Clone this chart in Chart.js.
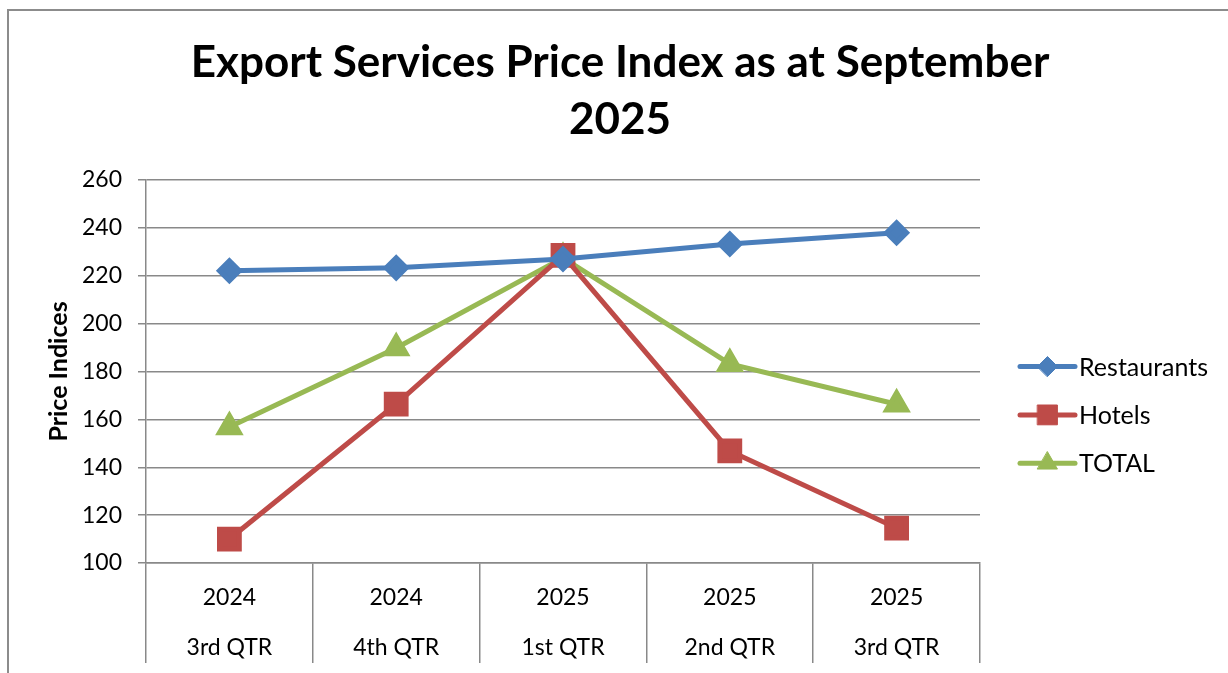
<!DOCTYPE html>
<html>
<head>
<meta charset="utf-8">
<title>Export Services Price Index</title>
<script src="https://cdn.jsdelivr.net/npm/chart.js@4.4.1/dist/chart.umd.min.js"></script>
<style>
    html, body { margin: 0; padding: 0; background: #ffffff; }
    #wrap { position: relative; width: 1228px; height: 673px; overflow: hidden; }
    #frame { position: absolute; left: 7px; top: 9px; width: 1300px; height: 800px;
             border-left: 2px solid #8c8c8c; border-top: 2px solid #8c8c8c; }
    #chart { position: absolute; left: 0; top: 0; }
</style>
</head>
<body>
<div id="wrap">
    <div id="frame"></div>
    <canvas id="chart" width="1228" height="673"></canvas>
</div>
<script>
// data
const years = ['2024', '2024', '2025', '2025', '2025'];
const quarters = ['3rd QTR', '4th QTR', '1st QTR', '2nd QTR', '3rd QTR'];
const restaurants = [222.1, 223.3, 227.0, 233.3, 238.0];
const hotels = [110.0, 166.4, 228.5, 146.8, 114.6];
const total = [156.8, 189.8, 227.5, 183.2, 166.3];
const yMin = 100, yMax = 260, yStep = 20;

const labels = years.map((y, i) => [y, quarters[i]]);

const FONT = 'Lato, "Open Sans", sans-serif';
const GRID = '#898989';

// legend on the right: a short line with the marker, then the name
const sideLegend = {
    id: 'sideLegend',
    afterDraw(chart) {
        const ctx = chart.ctx;
        const x0 = chart.chartArea.right + 40;
        chart.data.datasets.forEach((ds, i) => {
            const y = 366.5 + i * 48.4;
            ctx.save();
            ctx.strokeStyle = ds.borderColor;
            ctx.lineWidth = 5;
            ctx.lineCap = 'round';
            ctx.beginPath();
            ctx.moveTo(x0, y);
            ctx.lineTo(x0 + 55, y);
            ctx.stroke();
            ctx.fillStyle = ds.borderColor;
            ctx.lineWidth = 1;
            Chart.helpers.drawPoint(ctx, {
                pointStyle: ds.pointStyle,
                radius: ds.pointRadius,
                rotation: 0,
                borderWidth: 1
            }, x0 + 27.5, y);
            ctx.fillStyle = '#000000';
            ctx.font = '25px ' + FONT;
            ctx.textBaseline = 'middle';
            ctx.textAlign = 'left';
            ctx.fillText(ds.label, x0 + 59, y + 1);
            ctx.restore();
        });
    }
};

const chart = new Chart(document.getElementById('chart'), {
    type: 'line',
    data: {
        labels: labels,
        datasets: [{
            label: 'Restaurants',
            data: restaurants,
            borderColor: '#4a7ebb',
            backgroundColor: '#4a7ebb',
            borderWidth: 5,
            pointStyle: 'rectRot',
            pointRadius: 10,
            pointHoverRadius: 10,
            tension: 0
        }, {
            label: 'Hotels',
            data: hotels,
            borderColor: '#be4b48',
            backgroundColor: '#be4b48',
            borderWidth: 5,
            pointStyle: 'rect',
            pointRadius: 14,
            pointHoverRadius: 14,
            tension: 0
        }, {
            label: 'TOTAL',
            data: total,
            borderColor: '#98b954',
            backgroundColor: '#98b954',
            borderWidth: 5,
            pointStyle: 'triangle',
            pointRadius: 11.5,
            pointHoverRadius: 11.5,
            tension: 0
        }]
    },
    options: {
        responsive: false,
        animation: false,
        layout: { padding: { left: 12, right: 0, top: 0, bottom: 0 } },
        plugins: {
            legend: { display: false },
            tooltip: { enabled: false },
            title: {
                display: true,
                text: ['Export Services Price Index as at September', '2025'],
                color: '#000000',
                font: { family: FONT, size: 44, weight: 'bold', lineHeight: 57 / 44 },
                padding: { top: 34, bottom: 32 }
            }
        },
        scales: {
            x: {
                offset: true,
                grid: {
                    display: true,
                    offset: true,
                    drawOnChartArea: false,
                    drawTicks: true,
                    tickLength: 100,
                    color: GRID,
                    lineWidth: 1.5
                },
                border: { display: true, color: GRID, width: 1.5 },
                ticks: {
                    color: '#000000',
                    font: { family: FONT, size: 23, lineHeight: 50 / 23 },
                    padding: -90,
                    maxRotation: 0,
                    autoSkip: false
                },
                afterFit(scale) { scale.height = 110; }
            },
            y: {
                min: yMin,
                max: yMax,
                grid: {
                    color: GRID,
                    lineWidth: 1.5,
                    drawTicks: true,
                    tickLength: 8
                },
                border: { display: true, color: GRID, width: 1.5 },
                ticks: {
                    stepSize: yStep,
                    color: '#000000',
                    font: { family: FONT, size: 23 },
                    padding: 16
                },
                title: {
                    display: true,
                    text: 'Price Indices',
                    color: '#000000',
                    font: { family: FONT, size: 25, weight: 'bold', lineHeight: 1.2 },
                    padding: { top: 32, bottom: 0 }
                },
                afterFit(scale) { scale.width = 134; }
            },
            // empty axis on the right keeps room for the legend
            side: {
                position: 'right',
                display: true,
                grid: { display: false },
                border: { display: false },
                ticks: { display: false },
                afterFit(scale) { scale.width = 248; }
            }
        }
    },
    plugins: [sideLegend]
});
</script>
</body>
</html>
